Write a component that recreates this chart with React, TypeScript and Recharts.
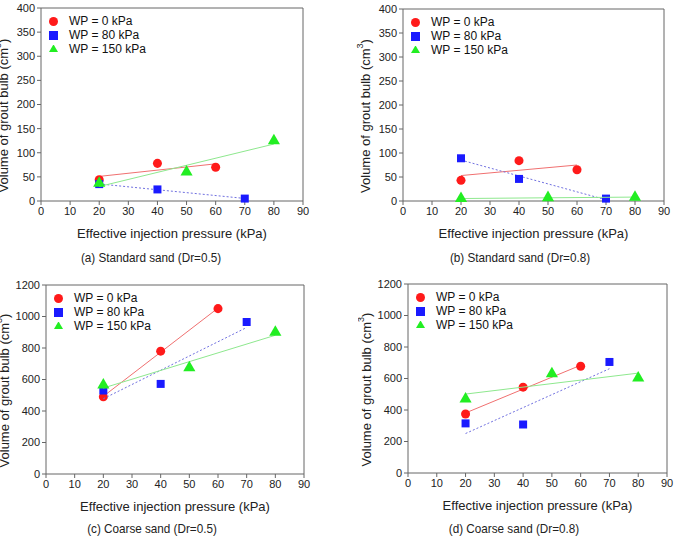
import { Legend, ReferenceLine, Scatter, ScatterChart, XAxis, YAxis, ZAxis } from "recharts";

const FONT = "'Liberation Sans', Arial, sans-serif";

const xTicks = [0, 10, 20, 30, 40, 50, 60, 70, 80, 90];
const smallTicks = [0, 50, 100, 150, 200, 250, 300, 350, 400];
const bigTicks = [0, 200, 400, 600, 800, 1000, 1200];
const seriesNames = ["WP = 0 kPa", "WP = 80 kPa", "WP = 150 kPa"];

// (a) Standard sand, Dr=0.5
const aWp0X = [20, 40, 60];
const aWp0Y = [44, 78, 70];
const aWp80X = [20, 40, 70];
const aWp80Y = [35, 24, 5];
const aWp150X = [20, 50, 80];
const aWp150Y = [37, 60, 125];

// (b) Standard sand, Dr=0.8
const bWp0X = [20, 40, 60];
const bWp0Y = [43, 84, 65];
const bWp80X = [20, 40, 70];
const bWp80Y = [89, 46, 5];
const bWp150X = [20, 50, 80];
const bWp150Y = [5, 7, 8];

// (c) Coarse sand, Dr=0.5
const cWp0X = [20, 40, 60];
const cWp0Y = [490, 780, 1050];
const cWp80X = [20, 40, 70];
const cWp80Y = [530, 572, 965];
const cWp150X = [20, 50, 80];
const cWp150Y = [565, 675, 900];

// (d) Coarse sand, Dr=0.8
const dWp0X = [20, 40, 60];
const dWp0Y = [375, 545, 678];
const dWp80X = [20, 40, 70];
const dWp80Y = [315, 308, 705];
const dWp150X = [20, 50, 80];
const dWp150Y = [470, 630, 603];

const zip = (xs: number[], ys: number[]) => xs.map((x, i) => ({ x, y: ys[i] }));

const styles = [
  { fill: "#ff1a1a", shape: "circle", line: { stroke: "#f07070", strokeWidth: 1 } },
  { fill: "#1a1aff", shape: "square", line: { stroke: "#7070e0", strokeWidth: 1, strokeDasharray: "2 2" } },
  { fill: "#22ee22", shape: "triangle", line: { stroke: "#8ee88e", strokeWidth: 1 } },
] as const;

const legendTypes = ["circle", "square", "triangle"] as const;

type PanelProps = {
  left: number; // page x of the plot's left edge
  top: number; // page y of the plot's top edge
  plotW: number;
  plotH: number;
  yMax: number;
  yTicks: number[];
  labelGap: number;
  xs: number[][];
  ys: number[][];
};

const PAD_L = 50;
const PAD_T = 10;
const PAD_R = 12;
const PAD_B = 45;

function YTitle({ viewBox, gap }: any) {
  const cx = viewBox.x + viewBox.width - gap;
  const cy = viewBox.y + viewBox.height / 2 + 11;
  return (
    <text
      transform={`translate(${cx},${cy}) rotate(-90)`}
      textAnchor="middle"
      dominantBaseline="central"
      fontSize={13}
      fontFamily={FONT}
      fill="#222"
    >
      Volume of grout bulb (cm
      <tspan dy={-5} fontSize={9}>3</tspan>
      <tspan dy={5}>)</tspan>
    </text>
  );
}

function Panel({ left, top, plotW, plotH, yMax, yTicks, labelGap, xs, ys }: PanelProps) {
  const w = PAD_L + plotW + PAD_R;
  const h = PAD_T + plotH + PAD_B;
  return (
    <div style={{ position: "absolute", left: left - PAD_L, top: top - PAD_T, width: w, height: h }}>
      <ScatterChart width={w} height={h} margin={{ top: PAD_T, right: PAD_R, bottom: 0, left: 0 }}>
        <XAxis
          type="number"
          dataKey="x"
          domain={[0, 90]}
          ticks={xTicks}
          height={PAD_B}
          stroke="#666"
          tickSize={4}
          tickMargin={2}
          tick={{ fontSize: 11, fill: "#222", fontFamily: FONT }}
          label={{
            value: "Effective injection pressure (kPa)",
            position: "insideTop",
            offset: 28,
            fontSize: 13,
            fill: "#222",
            fontFamily: FONT,
          }}
        />
        <YAxis
          type="number"
          dataKey="y"
          domain={[0, yMax]}
          ticks={yTicks}
          width={PAD_L}
          stroke="#666"
          tickSize={4}
          tickMargin={2}
          tick={{ fontSize: 11, fill: "#222", fontFamily: FONT }}
          label={{ content: (p: any) => <YTitle {...p} gap={labelGap} /> }}
        />
        <ZAxis range={[46, 46]} />
        <ReferenceLine y={yMax} stroke="#666" />
        <ReferenceLine x={90} stroke="#666" />
        <Legend
          layout="vertical"
          align="center"
          verticalAlign="middle"
          iconSize={9}
          itemSorter={(item: any) => seriesNames.indexOf(item.value)}
          wrapperStyle={{
            left: PAD_L + 8,
            top: PAD_T + 6,
            width: "auto",
            lineHeight: "14px",
            fontSize: 12,
            fontFamily: FONT,
          }}
          formatter={(v: string) => <span style={{ color: "#111", marginLeft: 7 }}>{v}</span>}
        />
        {seriesNames.map((name, i) => (
          <Scatter
            key={name}
            name={name}
            data={zip(xs[i], ys[i])}
            fill={styles[i].fill}
            shape={styles[i].shape}
            legendType={legendTypes[i]}
            line={styles[i].line}
            lineType="fitting"
            isAnimationActive={false}
          />
        ))}
      </ScatterChart>
    </div>
  );
}

const captionStyle = {
  position: "absolute" as const,
  fontFamily: FONT,
  fontSize: 13,
  color: "#222",
  whiteSpace: "pre" as const,
  transform: "translate(-50%, -50%) scaleX(0.9)",
};

export default function App() {
  return (
    <div
      style={{
        position: "absolute",
        left: 0,
        top: 0,
        width: 675,
        height: 536,
        overflow: "hidden",
        background: "#fff",
      }}
    >
      <Panel
        left={41}
        top={8}
        plotW={262}
        plotH={193}
        yMax={400}
        yTicks={smallTicks}
        labelGap={38}
        xs={[aWp0X, aWp80X, aWp150X]}
        ys={[aWp0Y, aWp80Y, aWp150Y]}
      />
      <Panel
        left={403}
        top={9}
        plotW={261}
        plotH={192}
        yMax={400}
        yTicks={smallTicks}
        labelGap={38}
        xs={[bWp0X, bWp80X, bWp150X]}
        ys={[bWp0Y, bWp80Y, bWp150Y]}
      />
      <Panel
        left={46}
        top={285}
        plotW={258}
        plotH={189}
        yMax={1200}
        yTicks={bigTicks}
        labelGap={42}
        xs={[cWp0X, cWp80X, cWp150X]}
        ys={[cWp0Y, cWp80Y, cWp150Y]}
      />
      <Panel
        left={408}
        top={284}
        plotW={259}
        plotH={189}
        yMax={1200}
        yTicks={bigTicks}
        labelGap={42}
        xs={[dWp0X, dWp80X, dWp150X]}
        ys={[dWp0Y, dWp80Y, dWp150Y]}
      />
      <div style={{ ...captionStyle, left: 151, top: 257 }}>(a) Standard sand (Dr=0.5)</div>
      <div style={{ ...captionStyle, left: 520, top: 257 }}>(b) Standard sand (Dr=0.8)</div>
      <div style={{ ...captionStyle, left: 152, top: 528 }}>(c) Coarse sand (Dr=0.5)</div>
      <div style={{ ...captionStyle, left: 514, top: 528 }}>(d) Coarse sand (Dr=0.8)</div>
    </div>
  );
}
